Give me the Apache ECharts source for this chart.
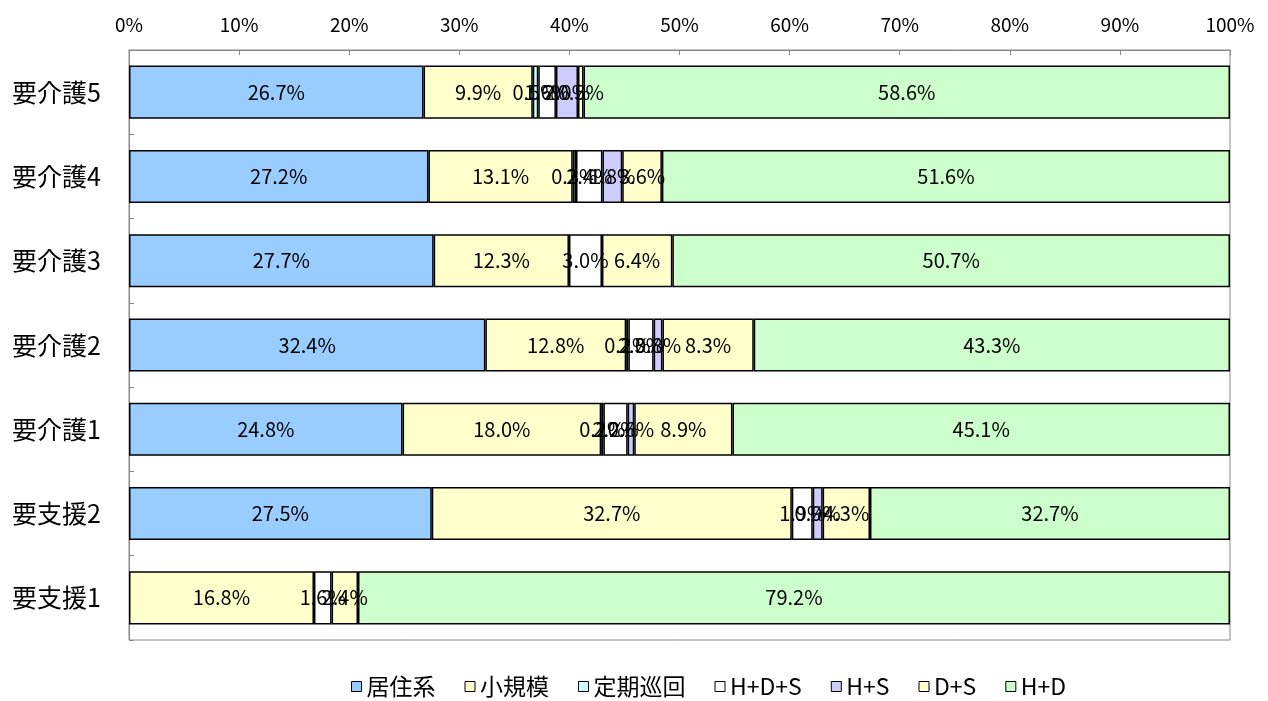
<!DOCTYPE html>
<html>
<head>
<meta charset="utf-8">
<script src="https://cdn.jsdelivr.net/npm/echarts@6/dist/echarts.min.js"></script>
<style>
  html, body { margin: 0; padding: 0; background: #fff; }
  #myChart { width: 1268px; height: 701px; }
</style>
</head>
<body>
<div id="myChart"></div>
<script>
// categories (top to bottom)
var categories = ['要介護5', '要介護4', '要介護3', '要介護2', '要介護1', '要支援2', '要支援1'];
var seriesNames = ['居住系', '小規模', '定期巡回', 'H+D+S', 'H+S', 'D+S', 'H+D'];
var seriesColors = ['#99CCFF', '#FFFFCC', '#CCFFFF', '#FFFFFF', '#CCCCFF', '#FFFFCC', '#CCFFCC'];

// percentages per series, same order as categories
var kyoju     = [26.7, 27.2, 27.7, 32.4, 24.8, 27.5, 0];
var shokibo   = [9.9, 13.1, 12.3, 12.8, 18.0, 32.7, 16.8];
var teiki     = [0.5, 0.3, 0, 0.2, 0.2, 0, 0];
var hds       = [1.6, 2.4, 3.0, 2.3, 2.2, 1.9, 1.6];
var hs        = [2.0, 1.8, 0, 0.8, 0.6, 0.9, 0];
var ds        = [0.5, 3.6, 6.4, 8.3, 8.9, 4.3, 2.4];
var hd        = [58.6, 51.6, 50.7, 43.3, 45.1, 32.7, 79.2];

var xTicks = { min: 0, max: 100, interval: 10 };

var allValues = [kyoju, shokibo, teiki, hds, hs, ds, hd];

var dom = document.getElementById('myChart');
var myChart = echarts.init(dom);

// 100% stacked: each row is scaled to its own total, labels keep the read value
var rowSums = [];
for (var r = 0; r < categories.length; r++) {
  var s = 0;
  for (var k = 0; k < allValues.length; k++) s += allValues[k][r];
  rowSums.push(s);
}

var seriesData = [];
for (var i = 0; i < seriesNames.length; i++) {
  var vals = [];
  for (var j = 0; j < allValues[i].length; j++) {
    var v = allValues[i][j];
    vals.push(v === 0 ? null : { value: v / rowSums[j] * 100, raw: v });
  }
  seriesData.push({
    name: seriesNames[i],
    type: 'bar',
    stack: 'total',
    barCategoryGap: '37%',
    data: vals,
    itemStyle: {
      color: seriesColors[i],
      borderColor: '#000',
      borderWidth: 1.5
    },
    label: {
      show: true,
      position: 'inside',
      color: '#000',
      fontSize: 20,
      fontFamily: 'Noto Sans CJK JP',
      formatter: function (p) {
        return p.data && p.data.raw != null ? p.data.raw.toFixed(1) + '%' : '';
      }
    }
  });
}

var option = {
  animation: false,
  textStyle: { fontFamily: 'Noto Sans CJK JP' },
  grid: {
    left: 129,
    right: 38,
    top: 50,
    bottom: 61,
    show: true,
    borderColor: '#888',
    borderWidth: 1
  },
  legend: {
    bottom: -2,
    left: 346,
    icon: 'rect',
    itemWidth: 10,
    itemHeight: 10,
    itemGap: 29,
    itemStyle: { borderColor: '#000', borderWidth: 1 },
    textStyle: { fontSize: 23, color: '#000', fontFamily: 'Noto Sans CJK JP' },
    data: seriesNames
  },
  xAxis: {
    type: 'value',
    position: 'top',
    min: xTicks.min,
    max: xTicks.max,
    interval: xTicks.interval,
    axisLine: { show: true, lineStyle: { color: '#888' } },
    axisTick: { show: true, inside: true, length: 5, lineStyle: { color: '#888' } },
    splitLine: { show: false },
    axisLabel: {
      formatter: '{value}%',
      color: '#000',
      fontSize: 19,
      margin: 16
    }
  },
  yAxis: {
    type: 'category',
    inverse: true,
    data: categories,
    axisLine: { show: true, lineStyle: { color: '#888' } },
    axisTick: { show: true, inside: true, length: 5, lineStyle: { color: '#888' } },
    axisLabel: {
      color: '#000',
      fontSize: 25,
      align: 'left',
      margin: 117
    }
  },
  series: seriesData
};

myChart.setOption(option);
window.addEventListener('resize', myChart.resize);
</script>
</body>
</html>
